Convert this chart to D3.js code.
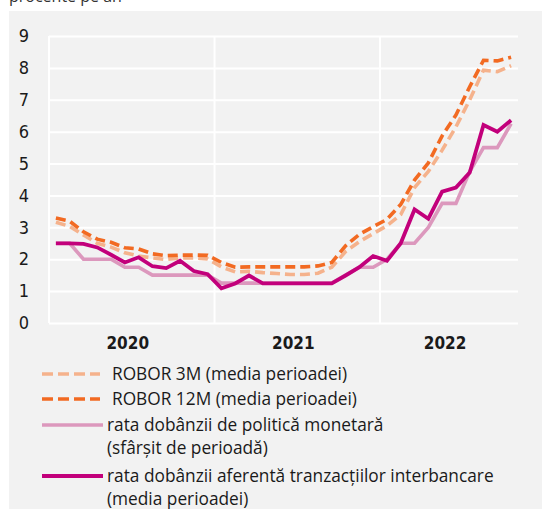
<!DOCTYPE html>
<html>
<head>
<meta charset="utf-8">
<script src="https://cdn.jsdelivr.net/npm/d3@7"></script>
<style>
  html, body { margin: 0; padding: 0; background: #ffffff; }
  svg { display: block; }
</style>
</head>
<body>
<svg id="chart" width="542" height="509"></svg>
<script>
// ---------- DATA ----------
const months = [
  "2020-01","2020-02","2020-03","2020-04","2020-05","2020-06","2020-07","2020-08","2020-09","2020-10","2020-11","2020-12",
  "2021-01","2021-02","2021-03","2021-04","2021-05","2021-06","2021-07","2021-08","2021-09","2021-10","2021-11","2021-12",
  "2022-01","2022-02","2022-03","2022-04","2022-05","2022-06","2022-07","2022-08","2022-09","2022-10"
];
const years = ["2020", "2021", "2022"];
const yTicks = [0, 1, 2, 3, 4, 5, 6, 7, 8, 9];

const robor3m = [3.16, 3.03, 2.76, 2.50, 2.38, 2.20, 2.10, 2.04, 1.99, 2.04, 2.04, 2.01,
                 1.76, 1.60, 1.62, 1.58, 1.55, 1.52, 1.52, 1.56, 1.75, 2.24, 2.55, 2.80,
                 3.05, 3.40, 4.25, 4.75, 5.42, 6.15, 7.00, 7.93, 7.88, 8.07];
const robor12m = [3.29, 3.19, 2.86, 2.63, 2.53, 2.36, 2.32, 2.17, 2.11, 2.13, 2.13, 2.12,
                  1.90, 1.75, 1.76, 1.76, 1.76, 1.76, 1.76, 1.79, 1.90, 2.42, 2.78, 3.02,
                  3.25, 3.72, 4.48, 5.02, 5.87, 6.52, 7.41, 8.24, 8.22, 8.33];
const policyRate = [2.5, 2.5, 2.0, 2.0, 2.0, 1.75, 1.75, 1.5, 1.5, 1.5, 1.5, 1.5,
                    1.25, 1.25, 1.25, 1.25, 1.25, 1.25, 1.25, 1.25, 1.25, 1.5, 1.75, 1.75,
                    2.0, 2.5, 2.5, 3.0, 3.75, 3.75, 4.75, 5.5, 5.5, 6.25];
const interbank = [2.5, 2.5, 2.48, 2.37, 2.14, 1.90, 2.06, 1.78, 1.72, 1.95, 1.63, 1.53,
                   1.09, 1.24, 1.49, 1.24, 1.24, 1.24, 1.24, 1.24, 1.24, 1.49, 1.75, 2.10,
                   1.95, 2.50, 3.56, 3.27, 4.12, 4.25, 4.72, 6.21, 6.00, 6.36];

const seriesNames = [
  ["ROBOR 3M (media perioadei)"],
  ["ROBOR 12M (media perioadei)"],
  ["rata dobânzii de politică monetară", "(sfârșit de perioadă)"],
  ["rata dobânzii aferentă tranzacțiilor interbancare", "(media perioadei)"]
];
const titleText = "procente pe an";

// ---------- STYLE ----------
const colors = ["#f5b28c", "#f26a22", "#dc98bd", "#c2007b"];
const widths = [3.6, 3.6, 3.6, 3.8];
const dashes = ["10,5", "10,5", null, null];
const series = [robor3m, robor12m, policyRate, interbank];

const svg = d3.select("#chart");
const W = 542, H = 509;
const textFont = "'Open Sans', 'Noto Sans', sans-serif";
const axisFont = "'Liberation Sans Narrow', 'DejaVu Sans Condensed', 'Roboto', sans-serif";

// panel
svg.append("rect").attr("x", 9).attr("y", 11).attr("width", W - 9).attr("height", H - 11)
  .attr("fill", "#f2f2f2");

// title (partially cut off at the top, as in the reference)
svg.append("text").attr("x", 9).attr("y", 2)
  .attr("font-family", textFont).attr("font-size", 16).attr("fill", "#333")
  .text(titleText);

const plot = { left: 49, right: 518, top: 36, bottom: 323 };
const x = d3.scaleBand().domain(months).range([plot.left, plot.right]).padding(0);
const y = d3.scaleLinear().domain([0, 9]).range([plot.bottom, plot.top]);
const cx = m => x(m) + x.bandwidth() / 2;

// horizontal grid
const yAxis = d3.axisLeft(y).tickValues(yTicks).tickSize(-(plot.right - plot.left)).tickPadding(14)
  .tickFormat(d3.format("d"));
const gy = svg.append("g").attr("transform", `translate(${plot.left},0)`).call(yAxis);
gy.select(".domain").remove();
gy.selectAll(".tick line").attr("stroke", "#ffffff").attr("stroke-width", 2);
gy.selectAll(".tick text").attr("font-family", axisFont).attr("font-size", 18)
  .attr("fill", "#1a1a1a").attr("text-anchor", "end").attr("x", -20);

// vertical grid at start of each year + left edge
const yearStarts = years.map(yr => months.find(m => m.startsWith(yr)));
const yearEnds = years.map(yr => months.filter(m => m.startsWith(yr)).slice(-1)[0]);
svg.append("g").selectAll("line").data(yearStarts).join("line")
  .attr("x1", d => x(d)).attr("x2", d => x(d))
  .attr("y1", plot.top).attr("y2", plot.bottom)
  .attr("stroke", "#ffffff").attr("stroke-width", 2);

// year labels
svg.append("g").selectAll("text").data(years).join("text")
  .attr("x", (d, i) => (x(yearStarts[i]) + x(yearEnds[i]) + x.bandwidth()) / 2 - 4)
  .attr("y", 349)
  .attr("text-anchor", "middle")
  .attr("font-family", axisFont).attr("font-size", 17).attr("font-weight", "bold")
  .attr("fill", "#1a1a1a")
  .text(d => d);

// lines
const line = d3.line().x((d, i) => cx(months[i])).y(d => y(d));
series.forEach((s, k) => {
  svg.append("path").datum(s)
    .attr("d", line)
    .attr("fill", "none")
    .attr("stroke", colors[k])
    .attr("stroke-width", widths[k])
    .attr("stroke-linejoin", "miter")
    .attr("stroke-dasharray", dashes[k]);
});

// legend
const legendRows = [374, 399, 425, 476];
const lg = svg.append("g");
seriesNames.forEach((lines, k) => {
  const yy = legendRows[k];
  const x0 = 42, x1 = dashes[k] ? 100 : 103;
  lg.append("line").attr("x1", x0).attr("x2", x1).attr("y1", yy).attr("y2", yy)
    .attr("stroke", colors[k]).attr("stroke-width", widths[k])
    .attr("stroke-dasharray", dashes[k] ? "11,5" : null);
  const tx = dashes[k] ? 112 : 107;
  lines.forEach((t, j) => {
    lg.append("text").attr("x", tx).attr("y", yy + 6 + j * 23)
      .attr("font-family", textFont).attr("font-size", 17.3).attr("fill", "#1a1a1a")
      .text(t);
  });
});
</script>
</body>
</html>
